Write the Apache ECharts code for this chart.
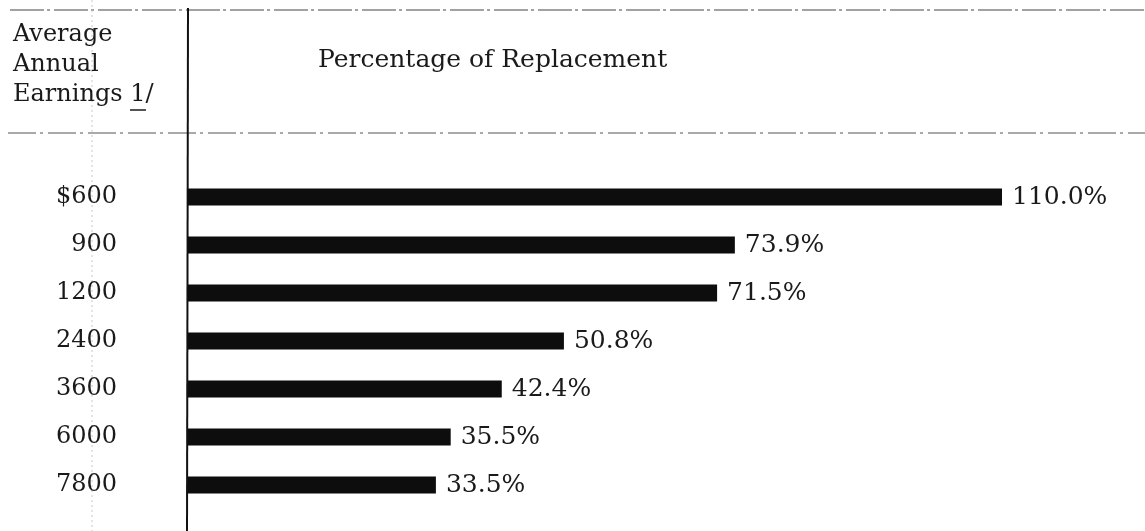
<!DOCTYPE html>
<html>
<head>
<meta charset="utf-8">
<style>
  html, body { margin: 0; padding: 0; background: #fff; }
  #chart { width: 1145px; height: 531px; }
</style>
<script src="https://cdn.jsdelivr.net/npm/echarts@6/dist/echarts.min.js"></script>
</head>
<body>
<div id="chart"></div>
<script>
// average annual earnings (row labels)
var earnings = ['$600', '900', '1200', '2400', '3600', '6000', '7800']
// percentage of replacement
var replacement = [110.0, 73.9, 71.5, 50.8, 42.4, 35.5, 33.5]

var serif = '"DejaVu Serif", "Liberation Serif", serif'
var ink = '#1a1a1a'

var chart = echarts.init(document.getElementById('chart'))

var option = {
  backgroundColor: '#fff',
  animation: false,
  grid: {
    left: 188,
    right: 69,
    top: 173,
    bottom: 22
  },
  xAxis: {
    type: 'value',
    min: 0,
    max: 120,
    show: false
  },
  yAxis: {
    type: 'category',
    inverse: true,
    data: earnings,
    axisLine: { show: false },
    axisTick: { show: false },
    axisLabel: {
      margin: 71,
      color: ink,
      fontFamily: serif,
      fontSize: 24
    }
  },
  series: [{
    type: 'bar',
    data: replacement,
    barWidth: 17,
    itemStyle: { color: '#0d0d0d' },
    label: {
      show: true,
      position: 'right',
      distance: 10,
      color: ink,
      fontFamily: serif,
      fontSize: 25,
      formatter: function (p) {
        return p.value.toFixed(1) + '%'
      }
    }
  }],
  graphic: [
    // header rules
    {
      type: 'line',
      shape: { x1: 10, y1: 10, x2: 1145, y2: 10 },
      style: { stroke: '#444', lineWidth: 1, lineDash: [34, 3, 3, 4] }
    },
    {
      type: 'line',
      shape: { x1: 8, y1: 133, x2: 1145, y2: 133 },
      style: { stroke: '#555', lineWidth: 1, lineDash: [28, 4, 3, 5] }
    },
    // faint scan line through the stub column
    {
      type: 'line',
      shape: { x1: 92, y1: 0, x2: 92, y2: 531 },
      style: { stroke: '#c8c8c8', lineWidth: 1, lineDash: [2, 3] }
    },
    // divider between stub and bars
    {
      type: 'line',
      shape: { x1: 188, y1: 8, x2: 187, y2: 531 },
      style: { stroke: '#111', lineWidth: 2 }
    },
    {
      type: 'text',
      left: 13,
      top: 20,
      style: {
        text: 'Average\nAnnual\nEarnings 1/',
        fill: ink,
        font: '24px ' + serif,
        lineHeight: 30
      }
    },
    // underline under the footnote mark
    {
      type: 'line',
      shape: { x1: 130, y1: 110, x2: 146, y2: 110 },
      style: { stroke: ink, lineWidth: 1.5 }
    },
    {
      type: 'text',
      left: 318,
      top: 48,
      style: {
        text: 'Percentage of Replacement',
        fill: ink,
        font: '25px ' + serif
      }
    }
  ]
}

chart.setOption(option)
</script>
</body>
</html>
